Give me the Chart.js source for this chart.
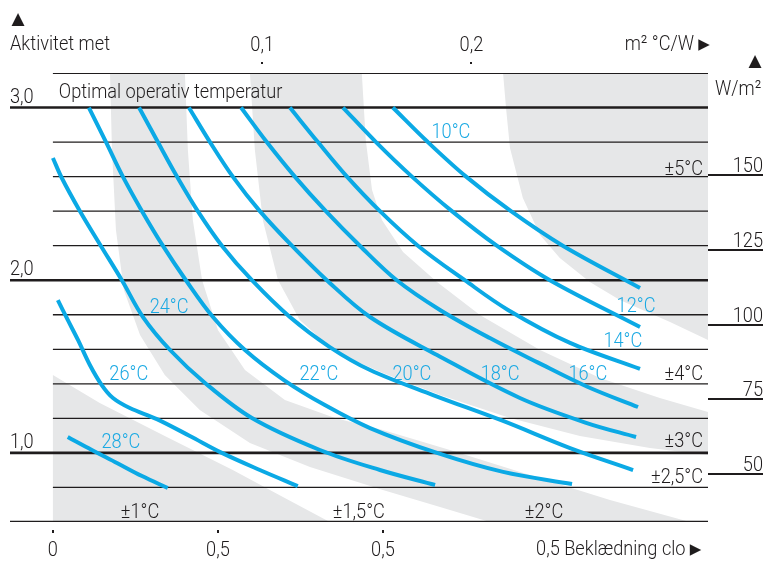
<!DOCTYPE html>
<html>
<head>
<meta charset="utf-8">
<script src="https://cdn.jsdelivr.net/npm/chart.js@4.4.1/dist/chart.umd.min.js"></script>
<style>
  html, body { margin: 0; padding: 0; background: #ffffff; }
  canvas { display: block; }
</style>
</head>
<body>
<canvas id="c" width="766" height="561"></canvas>
<script>
// Optimal operative temperature: clothing (clo) against activity (met)
const temps = ['10°C', '12°C', '14°C', '16°C', '18°C', '20°C', '22°C', '24°C', '26°C', '28°C'];

// curves, points as [clo, met]
const t10 = [[1.030,3.0],[1.136,2.8],[1.252,2.6],[1.388,2.4],[1.545,2.2],[1.779,1.955]];
const t12 = [[0.879,3.0],[0.979,2.8],[1.088,2.6],[1.209,2.4],[1.345,2.2],[1.506,2.0],[1.779,1.729]];
const t14 = [[0.718,3.0],[0.803,2.8],[0.891,2.6],[0.991,2.4],[1.106,2.2],[1.248,2.0],[1.379,1.828],[1.567,1.637],[1.779,1.486]];
const t16 = [[0.570,3.0],[0.648,2.8],[0.733,2.6],[0.827,2.4],[0.930,2.2],[1.042,2.0],[1.173,1.828],[1.324,1.665],[1.467,1.526],[1.621,1.382],[1.773,1.266]];
const t18 = [[0.412,3.0],[0.476,2.8],[0.545,2.6],[0.627,2.4],[0.724,2.2],[0.830,2.0],[0.961,1.787],[1.164,1.567],[1.415,1.318],[1.618,1.173],[1.767,1.092]];
const t20 = [[0.261,3.0],[0.318,2.8],[0.376,2.6],[0.439,2.4],[0.512,2.2],[0.603,2.0],[0.718,1.787],[0.839,1.613],[0.961,1.480],[1.152,1.335],[1.364,1.185],[1.567,1.028],[1.758,0.901]];
const t22 = [[0.109,3.0],[0.161,2.8],[0.212,2.6],[0.270,2.4],[0.333,2.2],[0.403,2.0],[0.485,1.787],[0.582,1.596],[0.700,1.422],[0.824,1.277],[0.961,1.144],[1.164,1.0],[1.364,0.890],[1.573,0.820]];
const t24 = [[0.0,2.708],[0.027,2.592],[0.082,2.4],[0.145,2.2],[0.209,2.0],[0.273,1.787],[0.355,1.596],[0.461,1.405],[0.603,1.202],[0.809,1.017],[0.991,0.901],[1.158,0.814]];
const t26 = [[0.015,1.885],[0.045,1.770],[0.076,1.654],[0.112,1.509],[0.148,1.393],[0.182,1.318],[0.233,1.260],[0.315,1.196],[0.415,1.098],[0.512,1.0],[0.627,0.901],[0.742,0.808]];
const t28 = [[0.045,1.092],[0.118,1.017],[0.194,0.942],[0.270,0.866],[0.348,0.797]];
const curves = [t10, t12, t14, t16, t18, t20, t22, t24, t26, t28];

// tolerance zone borders, [clo, met]
const edgeA  = [[0,1.451],[0.142,1.289],[0.345,1.092],[0.545,0.901],[0.697,0.745],[0.839,0.6]];
const edgeBC = [[0.173,3.2],[0.179,2.754],[0.191,2.291],[0.215,1.943],[0.264,1.683],[0.339,1.451],[0.445,1.249],[0.597,1.057],[0.779,0.918],[1.0,0.785],[1.173,0.687],[1.324,0.6]];
const edgeCD = [[0.4,3.2],[0.409,2.754],[0.424,2.349],[0.452,2.001],[0.5,1.712],[0.582,1.480],[0.703,1.306],[0.855,1.202],[1.0,1.133],[1.203,1.017],[1.445,0.872],[1.688,0.727],[1.930,0.6]];
const edgeDE = [[0.597,3.2],[0.612,2.754],[0.636,2.349],[0.682,2.001],[0.748,1.770],[0.855,1.584],[1.0,1.463],[1.173,1.335],[1.385,1.202],[1.597,1.098],[1.809,1.028],[1.985,0.988]];
const edgeEF = [[0.936,3.2],[0.948,2.812],[0.967,2.522],[0.997,2.349],[1.061,2.163],[1.164,1.990],[1.294,1.799],[1.476,1.596],[1.658,1.434],[1.839,1.318],[1.985,1.237]];
const edgeFG = [[1.364,3.2],[1.373,2.997],[1.385,2.766],[1.424,2.476],[1.476,2.262],[1.536,2.129],[1.627,1.990],[1.718,1.885],[1.870,1.758],[1.985,1.654]];
const zoneLabels = ['±5°C', '±4°C', '±3°C', '±2,5°C', '±2°C', '±1,5°C', '±1°C'];

// axes
const gridLevels = [3.2, 3.0, 2.8, 2.6, 2.4, 2.2, 2.0, 1.8, 1.6, 1.4, 1.2, 1.0, 0.8, 0.6];
const heavyLevels = [3.0, 2.0, 1.0, 0.6];
const metTicks = [3.0, 2.0, 1.0];
const metTickLabels = ['3,0', '2,0', '1,0'];
const cloTicks = [0, 0.5, 1.0, 1.5];
const cloTickLabels = ['0', '0,5', '0,5', '0,5'];
const resTicks = [0.1, 0.2];
const resTickLabels = ['0,1', '0,2'];
const wTicks = [150, 125, 100, 75, 50];
const wTickLabels = ['150', '125', '100', '75', '50'];

// ---- layout ----
const X_MIN = -0.13, X_MAX = 1.985;      // clo
const Y_MIN = 0.6, Y_MAX = 3.2;          // met
const CLO_TO_RES = 0.1577;               // m²°C/W per clo
const W_MIN = 34.0, W_MAX = 184.1;       // W/m² at Y_MIN / Y_MAX
const INK = '#1f1c1d';
const BLUE = '#0ba9e5';
const LABEL_BLUE = '#1aa9e3';
const GREY = '#e6e7e8';
const FONT = "Roboto, 'Liberation Sans', Arial, sans-serif";
const WEIGHT = 300;
const SIZE = 21;

// horizontal squeeze so the lettering keeps its narrow proportions
const probe = document.createElement('canvas').getContext('2d');
probe.font = WEIGHT + ' ' + SIZE + 'px ' + FONT;
const SQ = 100 / probe.measureText('Aktivitet met').width;

// text anchors [clo, met(baseline)]
const tempLabelAt = [[1.206,2.823],[1.767,1.816],[1.727,1.613],[1.621,1.422],[1.355,1.422],[1.088,1.422],[0.806,1.422],[0.352,1.810],[0.230,1.422],[0.206,1.028]];
const zoneLabelAt = [[1.970,2.609,'right'],[1.970,1.422,'right'],[1.970,1.034,'right'],[1.970,0.826,'right'],[1.488,0.623,'center'],[0.927,0.623,'center'],[0.264,0.623,'center']];
const titleAt = [0.018, 3.055];

const pts = a => a.map(p => ({ x: p[0], y: p[1] }));
const rev = a => a.slice().reverse();

const zones = [
  edgeA.concat([[0, 0.6]]),
  edgeBC.concat(rev(edgeCD)),
  edgeDE.concat(rev(edgeEF)),
  edgeFG.concat([[X_MAX, 3.2]])
];

const datasets = [];
zones.forEach(z => datasets.push({
  data: pts(z), fill: 'shape', backgroundColor: GREY, borderColor: 'rgba(0,0,0,0)',
  borderWidth: 0, pointRadius: 0, tension: 0, order: 3
}));
gridLevels.forEach(v => {
  const heavy = heavyLevels.includes(v);
  datasets.push({
    data: pts([[heavy ? X_MIN : 0, v], [X_MAX, v]]), fill: false,
    borderColor: INK, borderWidth: heavy ? 2.6 : (v === 3.2 ? 2.2 : 1.3),
    pointRadius: 0, tension: 0, order: 2
  });
});
curves.forEach(c => datasets.push({
  data: pts(c), fill: false, borderColor: BLUE, borderWidth: 4,
  borderCapStyle: 'butt', pointRadius: 0, tension: 0.35, order: 1
}));

function txt(ctx, s, x, y, align, color) {
  ctx.save();
  ctx.font = WEIGHT + ' ' + SIZE + 'px ' + FONT;
  ctx.fillStyle = color || INK;
  ctx.textBaseline = 'alphabetic';
  ctx.textAlign = 'left';
  const w = ctx.measureText(s).width * SQ;
  const x0 = align === 'center' ? x - w / 2 : align === 'right' ? x - w : x;
  ctx.translate(x0, y);
  ctx.scale(SQ, 1);
  ctx.fillText(s, 0, 0);
  ctx.restore();
  return w;
}
function glyph(ctx, s, x, y, size) {
  ctx.save();
  ctx.font = size + "px 'DejaVu Sans', sans-serif";
  ctx.fillStyle = INK;
  ctx.textAlign = 'center';
  ctx.textBaseline = 'alphabetic';
  ctx.fillText(s, x, y);
  ctx.restore();
}

const decorations = {
  id: 'decorations',
  afterDatasetsDraw(chart) {
    const ctx = chart.ctx;
    const { x, y, x2, y2 } = chart.scales;
    const a = chart.chartArea;

    // left axis (met)
    glyph(ctx, '▲', a.left + 8, 24, 17);
    txt(ctx, 'Aktivitet met', a.left, 50);
    metTicks.forEach((v, i) => txt(ctx, metTickLabels[i], a.left, y.getPixelForValue(v) - 5));

    // top axis (m²°C/W)
    resTicks.forEach((v, i) => {
      const px = x2.getPixelForValue(v);
      txt(ctx, resTickLabels[i], px, 51, 'center');
      ctx.fillStyle = INK;
      ctx.fillRect(Math.round(px) - 1, 62, 2, 2);
    });
    txt(ctx, 'm² °C/W', a.right - 14, 50, 'right');
    glyph(ctx, '▶', a.right - 4, 49, 15);

    // right axis (W/m²)
    glyph(ctx, '▲', a.right + 47, 66, 17);
    txt(ctx, 'W/m²', a.right + 7, 95);
    wTicks.forEach((v, i) => {
      const py = y2.getPixelForValue(v);
      ctx.fillStyle = INK;
      ctx.fillRect(a.right, Math.round(py) - 1, 55, 2);
      txt(ctx, wTickLabels[i], a.right + 55, py - 3, 'right');
    });

    // bottom axis (clo)
    cloTicks.forEach((v, i) => {
      const px = x.getPixelForValue(v);
      if (i < cloTicks.length - 1) {
        ctx.fillStyle = INK;
        ctx.fillRect(Math.round(px) - 1, 530, 2, 3);
        txt(ctx, cloTickLabels[i], px, 556, 'center');
      } else {
        ctx.save();
        ctx.font = WEIGHT + ' ' + SIZE + 'px ' + FONT;
        const half = ctx.measureText(cloTickLabels[i]).width * SQ / 2;
        ctx.restore();
        const w = txt(ctx, cloTickLabels[i] + ' Beklædning clo', px - half, 555, 'left');
        glyph(ctx, '▶', px - half + w + 10, 554, 15);
      }
    });

    // headings and labels inside the plot
    txt(ctx, 'Optimal operativ temperatur', x.getPixelForValue(titleAt[0]), y.getPixelForValue(titleAt[1]), 'left', INK);
    temps.forEach((s, i) => {
      const p = tempLabelAt[i];
      txt(ctx, s, x.getPixelForValue(p[0]), y.getPixelForValue(p[1]), 'center', LABEL_BLUE);
    });
    zoneLabels.forEach((s, i) => {
      const p = zoneLabelAt[i];
      txt(ctx, s, x.getPixelForValue(p[0]), y.getPixelForValue(p[1]), p[2], INK);
    });
  }
};

new Chart(document.getElementById('c'), {
  type: 'line',
  data: { datasets },
  options: {
    responsive: false,
    animation: false,
    devicePixelRatio: 1,
    events: [],
    layout: { padding: { left: 10, right: 58, top: 73, bottom: 39 } },
    plugins: { legend: { display: false }, tooltip: { enabled: false } },
    scales: {
      x: { type: 'linear', min: X_MIN, max: X_MAX, display: false },
      y: { type: 'linear', min: Y_MIN, max: Y_MAX, display: false },
      x2: { type: 'linear', position: 'top', min: X_MIN * CLO_TO_RES, max: X_MAX * CLO_TO_RES, display: false },
      y2: { type: 'linear', position: 'right', min: W_MIN, max: W_MAX, display: false }
    }
  },
  plugins: [decorations]
});
</script>
</body>
</html>
